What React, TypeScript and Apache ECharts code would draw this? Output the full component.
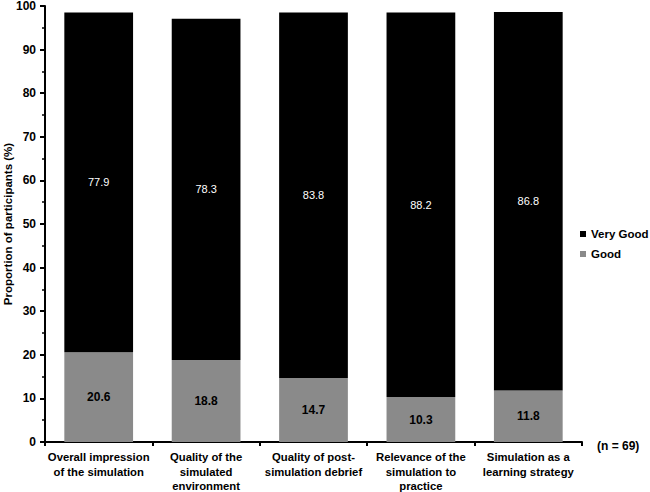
import React, { useEffect, useRef } from "react";
import * as echarts from "echarts";

const categories = [
  "Overall impression\nof the simulation",
  "Quality of the\nsimulated\nenvironment",
  "Quality of post-\nsimulation debrief",
  "Relevance of the\nsimulation to\npractice",
  "Simulation as a\nlearning strategy",
];
const goodValues = [20.6, 18.8, 14.7, 10.3, 11.8];
const veryGoodValues = [77.9, 78.3, 83.8, 88.2, 86.8];
const yTicks = [0, 100, 10];

export default function App() {
  const ref = useRef<HTMLDivElement>(null);
  useEffect(() => {
    document.body.style.margin = "0";
    const chart = echarts.init(ref.current!, null, { renderer: "svg" });
    const font = "Arial, 'Liberation Sans', sans-serif";
    chart.setOption({
      animation: false,
      grid: { left: 45, right: 68, top: 6, bottom: 50, containLabel: false, outerBoundsMode: "none" },
      legend: {
        orient: "vertical",
        left: 580,
        top: 228,
        padding: 0,
        itemWidth: 6,
        itemHeight: 6,
        itemGap: 8,
        icon: "rect",
        data: ["Very Good", "Good"],
        textStyle: { fontFamily: font, fontWeight: "bold", fontSize: 11.5, color: "#000" },
      },
      xAxis: {
        type: "category",
        data: categories,
        axisLine: { lineStyle: { color: "#000", width: 2 } },
        axisTick: { show: true, length: 4, lineStyle: { color: "#000", width: 2 } },
        axisLabel: {
          fontFamily: font,
          fontWeight: "bold",
          fontSize: 11.3,
          color: "#000",
          lineHeight: 14.5,
          margin: 8,
          interval: 0,
        },
      },
      yAxis: {
        type: "value",
        min: yTicks[0],
        max: yTicks[1],
        interval: yTicks[2],
        name: "Proportion of participants (%)",
        nameLocation: "middle",
        nameGap: 31,
        nameMoveOverlap: false,
        nameTextStyle: { fontFamily: font, fontWeight: "bold", fontSize: 11.5, color: "#000" },
        axisLine: { show: true, lineStyle: { color: "#000", width: 2 } },
        axisTick: { show: true, length: 5, lineStyle: { color: "#000", width: 2 } },
        minorTick: { show: true, splitNumber: 2, length: 3, lineStyle: { color: "#000", width: 1.5 } },
        splitLine: { show: false },
        axisLabel: { fontFamily: font, fontWeight: "bold", fontSize: 12, color: "#000", margin: 9 },
      },
      series: [
        {
          name: "Good",
          type: "bar",
          stack: "all",
          barWidth: "64%",
          data: goodValues,
          itemStyle: { color: "#8a8a8a" },
          label: {
            show: true,
            position: "inside",
            fontFamily: font,
            fontWeight: "bold",
            fontSize: 12,
            color: "#000",
          },
        },
        {
          name: "Very Good",
          type: "bar",
          stack: "all",
          barWidth: "64%",
          data: veryGoodValues,
          itemStyle: { color: "#000" },
          label: {
            show: true,
            position: "inside",
            fontFamily: font,
            fontSize: 11,
            color: "#fff",
          },
        },
      ],
      graphic: [
        {
          type: "text",
          left: 597,
          top: 440,
          style: { text: "(n = 69)", fontFamily: font, fontWeight: "bold", fontSize: 12, fill: "#000" },
        },
      ],
    });
    return () => chart.dispose();
  }, []);
  return <div ref={ref} style={{ width: 650, height: 492 }} />;
}
